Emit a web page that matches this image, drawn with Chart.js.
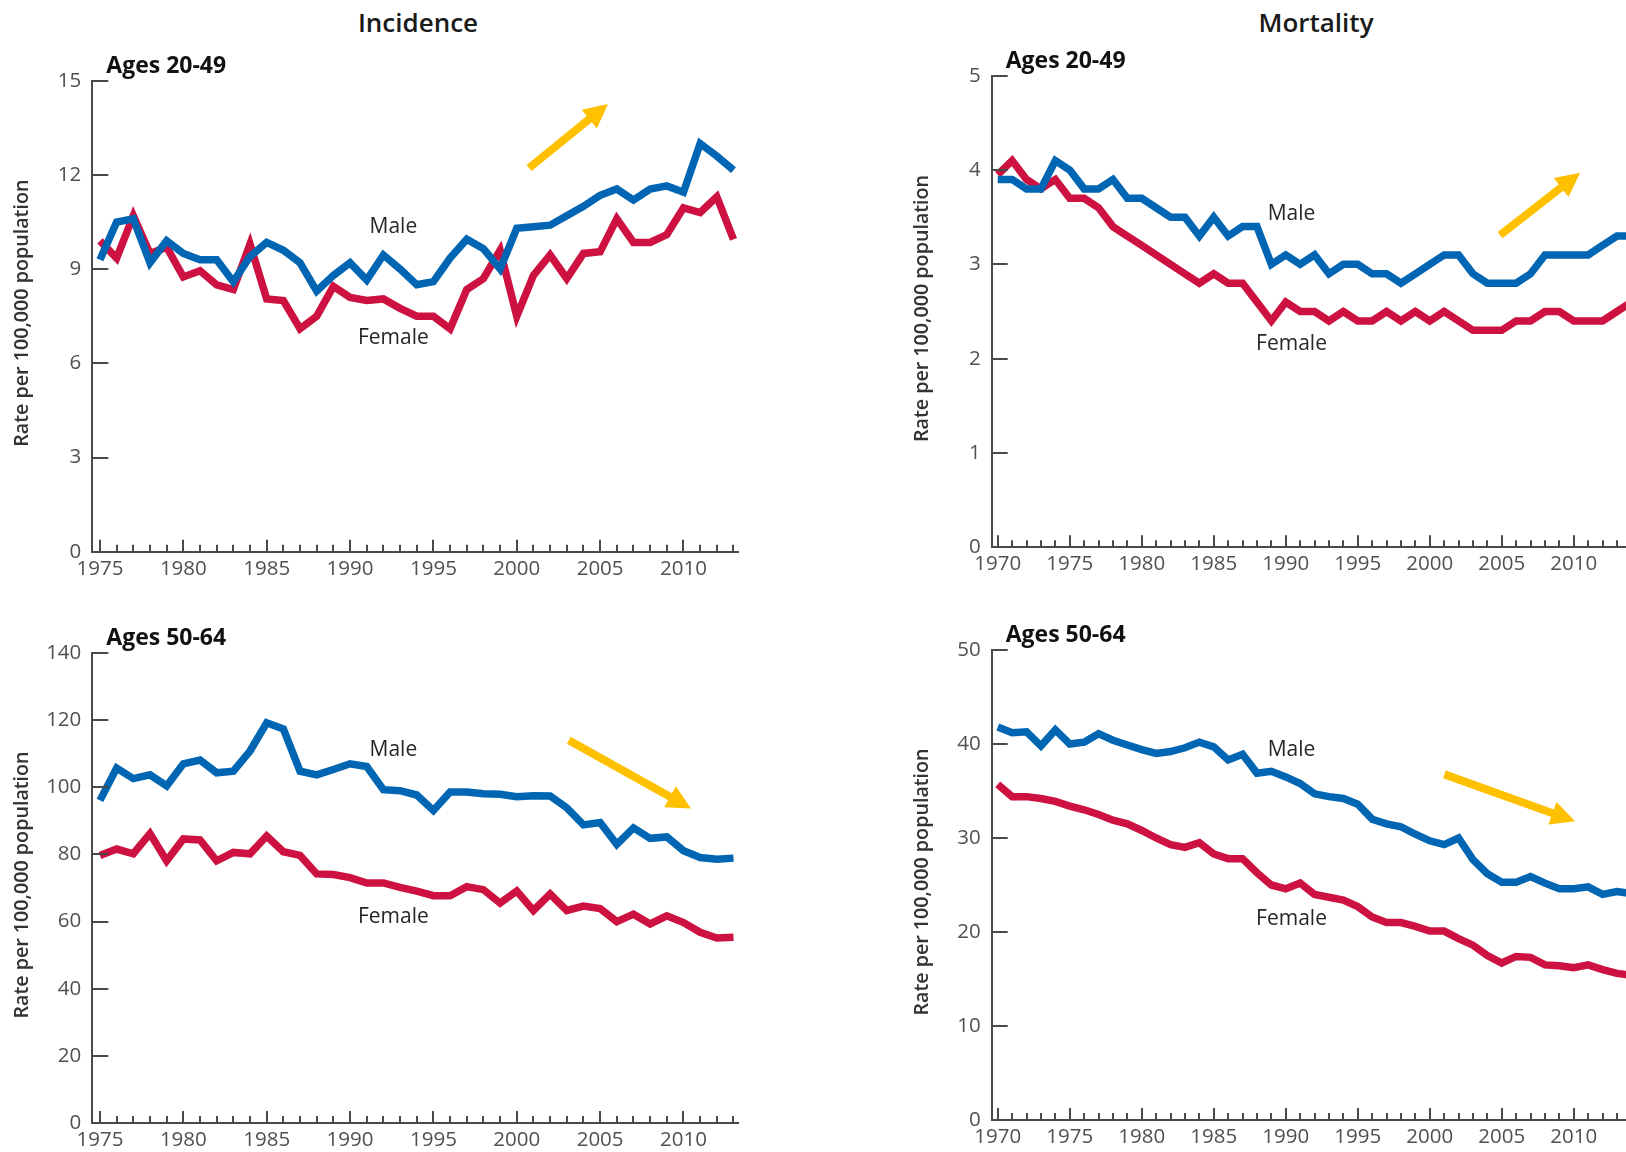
<!DOCTYPE html>
<html>
<head>
<meta charset="utf-8">
<title>Incidence and Mortality by Age</title>
<script src="https://cdn.jsdelivr.net/npm/chart.js@4.4.1/dist/chart.umd.min.js"></script>
<style>
  html, body { margin: 0; padding: 0; background: #fff; }
  body { width: 1626px; height: 1152px; overflow: hidden; position: relative; font-family: "Open Sans", sans-serif; }
  canvas { position: absolute; }
  .col-title { position: absolute; top: 7px; width: 300px; text-align: center; font-size: 26px; font-weight: 600; line-height: 30px; color: #1a1a1a; }
</style>
</head>
<body>
<div class="col-title" style="left:268px">Incidence</div>
<div class="col-title" style="left:1166px">Mortality</div>

<canvas id="incYoung" width="780" height="600" style="left:0;top:0"></canvas>
<canvas id="mortYoung" width="780" height="600" style="left:900px;top:0"></canvas>
<canvas id="incOld" width="780" height="576" style="left:0;top:576px"></canvas>
<canvas id="mortOld" width="780" height="576" style="left:900px;top:576px"></canvas>

<script>
// Data
const incYears = [1975, 1976, 1977, 1978, 1979, 1980, 1981, 1982, 1983, 1984,
                  1985, 1986, 1987, 1988, 1989, 1990, 1991, 1992, 1993, 1994,
                  1995, 1996, 1997, 1998, 1999, 2000, 2001, 2002, 2003, 2004,
                  2005, 2006, 2007, 2008, 2009, 2010, 2011, 2012, 2013];
const mortYears = [1970, 1971, 1972, 1973, 1974, 1975, 1976, 1977, 1978, 1979,
                   1980, 1981, 1982, 1983, 1984, 1985, 1986, 1987, 1988, 1989,
                   1990, 1991, 1992, 1993, 1994, 1995, 1996, 1997, 1998, 1999,
                   2000, 2001, 2002, 2003, 2004, 2005, 2006, 2007, 2008, 2009,
                   2010, 2011, 2012, 2013, 2014];

const incXLabels = [1975, 1980, 1985, 1990, 1995, 2000, 2005, 2010];
const mortXLabels = [1970, 1975, 1980, 1985, 1990, 1995, 2000, 2005, 2010];

const incYoungTicks = [0, 3, 6, 9, 12, 15];
const mortYoungTicks = [0, 1, 2, 3, 4, 5];
const incOldTicks = [0, 20, 40, 60, 80, 100, 120, 140];
const mortOldTicks = [0, 10, 20, 30, 40, 50];

// Incidence, ages 20-49
const incYoungMale = [9.3, 10.5, 10.6, 9.2, 9.9, 9.5, 9.3, 9.3, 8.6, 9.4,
                      9.85, 9.6, 9.2, 8.3, 8.8, 9.2, 8.65, 9.45, 9.0, 8.5,
                      8.6, 9.35, 9.95, 9.65, 9.0, 10.3, 10.35, 10.4, 10.7, 11.0,
                      11.35, 11.55, 11.2, 11.55, 11.65, 11.45, 13.0, 12.6, 12.15];
const incYoungFemale = [9.9, 9.35, 10.7, 9.5, 9.7, 8.75, 8.95, 8.5, 8.35, 9.8,
                        8.05, 8.0, 7.1, 7.5, 8.45, 8.1, 8.0, 8.05, 7.75, 7.5,
                        7.5, 7.1, 8.35, 8.7, 9.6, 7.5, 8.8, 9.45, 8.7, 9.5,
                        9.55, 10.6, 9.85, 9.85, 10.1, 10.95, 10.8, 11.3, 9.95];

// Incidence, ages 50-64
const incOldMale = [96.1, 105.7, 102.6, 103.7, 100.4, 107.0, 108.1, 104.3, 104.8, 110.8,
                    119.2, 117.4, 104.8, 103.7, 105.3, 107.0, 106.2, 99.3, 99.0, 97.7,
                    93.1, 98.6, 98.6, 98.1, 97.9, 97.2, 97.5, 97.4, 93.9, 88.8,
                    89.5, 83.0, 87.9, 84.8, 85.2, 81.1, 79.1, 78.6, 78.9];
const incOldFemale = [79.7, 81.6, 80.2, 86.2, 78.1, 84.6, 84.3, 78.1, 80.6, 80.2,
                      85.5, 80.8, 79.7, 74.2, 74.0, 73.1, 71.5, 71.5, 70.2, 69.1,
                      67.7, 67.7, 70.4, 69.5, 65.5, 69.1, 63.3, 68.2, 63.3, 64.6,
                      63.9, 60.0, 62.2, 59.3, 61.7, 59.7, 56.8, 55.1, 55.3];

// Mortality, ages 20-49
const mortYoungMale = [3.9, 3.9, 3.8, 3.8, 4.1, 4.0, 3.8, 3.8, 3.9, 3.7,
                       3.7, 3.6, 3.5, 3.5, 3.3, 3.5, 3.3, 3.4, 3.4, 3.0,
                       3.1, 3.0, 3.1, 2.9, 3.0, 3.0, 2.9, 2.9, 2.8, 2.9,
                       3.0, 3.1, 3.1, 2.9, 2.8, 2.8, 2.8, 2.9, 3.1, 3.1,
                       3.1, 3.1, 3.2, 3.3, 3.3];
const mortYoungFemale = [3.95, 4.1, 3.9, 3.8, 3.9, 3.7, 3.7, 3.6, 3.4, 3.3,
                         3.2, 3.1, 3.0, 2.9, 2.8, 2.9, 2.8, 2.8, 2.6, 2.4,
                         2.6, 2.5, 2.5, 2.4, 2.5, 2.4, 2.4, 2.5, 2.4, 2.5,
                         2.4, 2.5, 2.4, 2.3, 2.3, 2.3, 2.4, 2.4, 2.5, 2.5,
                         2.4, 2.4, 2.4, 2.5, 2.6];

// Mortality, ages 50-64
const mortOldMale = [41.8, 41.2, 41.3, 39.8, 41.5, 40.0, 40.2, 41.1, 40.4, 39.9,
                     39.4, 39.0, 39.2, 39.6, 40.2, 39.7, 38.3, 38.9, 36.9, 37.1,
                     36.5, 35.8, 34.7, 34.4, 34.2, 33.6, 32.0, 31.5, 31.2, 30.4,
                     29.7, 29.3, 30.0, 27.7, 26.2, 25.3, 25.3, 25.9, 25.2, 24.6,
                     24.6, 24.8, 24.0, 24.3, 24.1];
const mortOldFemale = [35.7, 34.4, 34.4, 34.2, 33.9, 33.4, 33.0, 32.5, 31.9, 31.5,
                       30.8, 30.0, 29.3, 29.0, 29.5, 28.3, 27.8, 27.8, 26.3, 25.0,
                       24.6, 25.2, 24.0, 23.7, 23.4, 22.7, 21.6, 21.0, 21.0, 20.6,
                       20.1, 20.1, 19.3, 18.6, 17.5, 16.7, 17.4, 17.3, 16.5, 16.4,
                       16.2, 16.5, 16.0, 15.6, 15.4];

// Styling
const FONT = '"Open Sans", sans-serif';
const MALE_COLOR = '#0065b2';
const FEMALE_COLOR = '#cd1141';
const ARROW_COLOR = '#ffc000';
const AXIS_COLOR = '#4a4a4a';
const TICK_COLOR = '#505050';
const Y_TITLE = 'Rate per 100,000 population';

Chart.defaults.font.family = FONT;

function drawArrow(ctx, x0, y0, x1, y1) {
    const ang = Math.atan2(y1 - y0, x1 - x0);
    const headLen = 24, headHalf = 12;
    const bx = x1 - headLen * Math.cos(ang);
    const by = y1 - headLen * Math.sin(ang);
    ctx.strokeStyle = ARROW_COLOR;
    ctx.fillStyle = ARROW_COLOR;
    ctx.lineWidth = 8;
    ctx.lineCap = 'butt';
    ctx.beginPath();
    ctx.moveTo(x0, y0);
    ctx.lineTo(bx + Math.cos(ang), by + Math.sin(ang));
    ctx.stroke();
    ctx.beginPath();
    ctx.moveTo(x1, y1);
    ctx.lineTo(bx + headHalf * Math.sin(ang), by - headHalf * Math.cos(ang));
    ctx.lineTo(bx - headHalf * Math.sin(ang), by + headHalf * Math.cos(ang));
    ctx.closePath();
    ctx.fill();
}

// Inward tick marks, axis title, subtitle, line labels and trend arrow
const panelDecor = {
    id: 'panelDecor',
    afterDraw(chart, args, opts) {
        const { ctx, chartArea: a, scales: { x, y } } = chart;
        ctx.save();

        ctx.strokeStyle = AXIS_COLOR;
        ctx.lineWidth = 2;
        ctx.beginPath();
        opts.years.forEach(yr => {
            const px = Math.round(x.getPixelForValue(yr));
            const len = yr % 5 === 0 ? 12 : 7;
            ctx.moveTo(px, a.bottom);
            ctx.lineTo(px, a.bottom - len);
        });
        y.ticks.forEach(t => {
            if (t.value === 0) return;
            const py = Math.round(y.getPixelForValue(t.value));
            ctx.moveTo(a.left, py);
            ctx.lineTo(a.left + 16, py);
        });
        ctx.stroke();

        // y axis title
        ctx.save();
        ctx.translate(a.left - 69.5, (a.top + a.bottom) / 2 - 3);
        ctx.rotate(-Math.PI / 2);
        ctx.font = '600 19.7px ' + FONT;
        ctx.fillStyle = '#333';
        ctx.textAlign = 'center';
        ctx.textBaseline = 'middle';
        ctx.fillText(Y_TITLE, 0, 0);
        ctx.restore();

        // panel subtitle
        ctx.font = 'bold 23px ' + FONT;
        ctx.fillStyle = '#111';
        ctx.textAlign = 'left';
        ctx.textBaseline = 'alphabetic';
        ctx.fillText(opts.subtitle, a.left + 14, a.top - 8);

        // series labels
        ctx.font = '21px ' + FONT;
        ctx.fillStyle = '#262626';
        ctx.textAlign = 'center';
        ctx.textBaseline = 'middle';
        opts.labels.forEach(l => {
            ctx.fillText(l.text, x.getPixelForValue(l.x), y.getPixelForValue(l.y));
        });

        const ar = opts.arrow;
        drawArrow(ctx, x.getPixelForValue(ar.x0), y.getPixelForValue(ar.y0),
                  x.getPixelForValue(ar.x1), y.getPixelForValue(ar.y1));
        ctx.restore();
    }
};

function toPoints(years, values) {
    return years.map((yr, i) => ({ x: yr, y: values[i] }));
}

function makePanel(p) {
    const canvas = document.getElementById(p.id);
    const W = canvas.width, H = canvas.height;
    return new Chart(canvas, {
        type: 'line',
        data: {
            datasets: [
                { label: 'Male', data: toPoints(p.years, p.male), borderColor: MALE_COLOR,
                  borderWidth: 7.5, pointRadius: 0, tension: 0, fill: false },
                { label: 'Female', data: toPoints(p.years, p.female), borderColor: FEMALE_COLOR,
                  borderWidth: 7.5, pointRadius: 0, tension: 0, fill: false }
            ]
        },
        options: {
            responsive: false,
            animation: false,
            devicePixelRatio: 1,
            events: [],
            layout: { padding: { top: p.area.top, right: W - p.area.right, left: 0, bottom: 0 } },
            plugins: {
                legend: { display: false },
                tooltip: { enabled: false },
                panelDecor: { years: p.years, subtitle: p.subtitle, labels: p.labels, arrow: p.arrow }
            },
            scales: {
                x: {
                    type: 'linear',
                    min: p.xMin,
                    max: p.xMax,
                    afterFit(s) { s.height = H - p.area.bottom; },
                    afterBuildTicks(s) { s.ticks = p.xLabels.map(v => ({ value: v })); },
                    grid: { display: false, drawTicks: false },
                    border: { display: true, color: AXIS_COLOR, width: 2 },
                    ticks: { autoSkip: false, maxRotation: 0, padding: 5, color: TICK_COLOR,
                             font: { size: 20.5 }, callback: v => String(v) }
                },
                y: {
                    min: p.yTicks[0],
                    max: p.yTicks[p.yTicks.length - 1],
                    afterFit(s) { s.width = p.area.left; },
                    afterBuildTicks(s) { s.ticks = p.yTicks.map(v => ({ value: v })); },
                    grid: { display: false, drawTicks: false },
                    border: { display: true, color: AXIS_COLOR, width: 2 },
                    ticks: { padding: 11, color: TICK_COLOR, font: { size: 20.5 }, callback: v => String(v) }
                }
            }
        },
        plugins: [panelDecor]
    });
}

makePanel({
    id: 'incYoung', years: incYears, male: incYoungMale, female: incYoungFemale,
    xLabels: incXLabels, yTicks: incYoungTicks, xMin: 1974.54, xMax: 2013.27,
    area: { left: 92.3, top: 80.7, right: 738, bottom: 551.7 },
    subtitle: 'Ages 20-49',
    labels: [{ text: 'Male', x: 1992.6, y: 10.34 }, { text: 'Female', x: 1992.6, y: 6.8 }],
    arrow: { x0: 2000.74, y0: 12.22, x1: 2005.47, y1: 14.26 }
});

makePanel({
    id: 'mortYoung', years: mortYears, male: mortYoungMale, female: mortYoungFemale,
    xLabels: mortXLabels, yTicks: mortYoungTicks, xMin: 1969.58, xMax: 2014.6,
    area: { left: 91.7, top: 75.7, right: 740, bottom: 547.3 },
    subtitle: 'Ages 20-49',
    labels: [{ text: 'Male', x: 1990.4, y: 3.53 }, { text: 'Female', x: 1990.4, y: 2.16 }],
    arrow: { x0: 2004.88, y0: 3.31, x1: 2010.44, y1: 3.97 }
});

makePanel({
    id: 'incOld', years: incYears, male: incOldMale, female: incOldFemale,
    xLabels: incXLabels, yTicks: incOldTicks, xMin: 1974.54, xMax: 2013.27,
    area: { left: 92.3, top: 77, right: 738, bottom: 547 },
    subtitle: 'Ages 50-64',
    labels: [{ text: 'Male', x: 1992.6, y: 111.2 }, { text: 'Female', x: 1992.6, y: 61.5 }],
    arrow: { x0: 2003.12, y0: 114.0, x1: 2010.45, y1: 93.7 }
});

makePanel({
    id: 'mortOld', years: mortYears, male: mortOldMale, female: mortOldFemale,
    xLabels: mortXLabels, yTicks: mortOldTicks, xMin: 1969.58, xMax: 2014.6,
    area: { left: 91.7, top: 74, right: 740, bottom: 544 },
    subtitle: 'Ages 50-64',
    labels: [{ text: 'Male', x: 1990.4, y: 39.4 }, { text: 'Female', x: 1990.4, y: 21.4 }],
    arrow: { x0: 2001.02, y0: 36.77, x1: 2010.09, y1: 31.77 }
});
</script>
</body>
</html>
